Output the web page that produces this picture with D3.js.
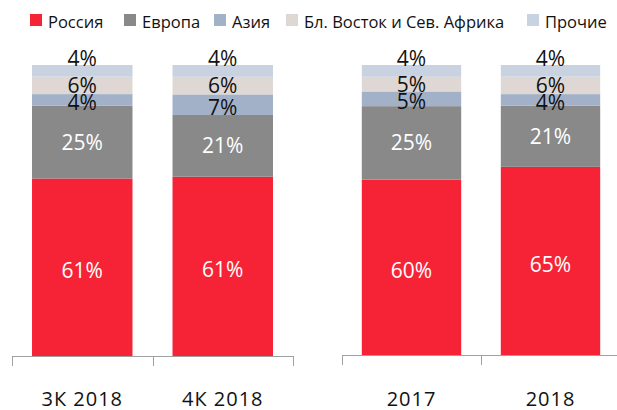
<!DOCTYPE html>
<html>
<head>
<meta charset="utf-8">
<script src="https://cdn.jsdelivr.net/npm/d3@7"></script>
<style>
  body { margin: 0; background: #fff; }
  svg { font-family: "Open Sans", sans-serif; }
</style>
</head>
<body>
<svg id="chart" width="617" height="410"></svg>
<script>
// series (bottom to top) and colours
const series = ["Россия", "Европа", "Азия", "Бл. Восток и Сев. Африка", "Прочие"];
const colors = ["#f62336", "#898989", "#a2b1c8", "#dfd7d4", "#c8d2e0"];

// left group: quarters, right group: years
const quarters = ["3К 2018", "4К 2018"];
const quarterValues = [
    [61, 25, 4, 6, 4],
    [61, 21, 7, 6, 4]
];
const years = ["2017", "2018"];
const yearValues = [
    [60, 25, 5, 5, 4],
    [65, 21, 4, 6, 4]
];

const svg = d3.select("#chart");

// shared vertical scale (share of 100%)
const y = d3.scaleLinear().domain([0, 1]).range([356, 65]);

// label nudges per series, to keep small segments apart
const labelShift = [3, 0, 3, 0, -12];

function drawGroup(cats, values, x0, x1, baseY) {
    const x = d3.scaleBand().domain(cats).range([x0, x1]).padding(0);
    const barW = x.bandwidth() * 0.715;

    const rows = cats.map((c, i) => {
        const r = { cat: c };
        series.forEach((s, j) => r[s] = values[i][j]);
        return r;
    });
    const stacked = d3.stack().keys(series).offset(d3.stackOffsetExpand)(rows);

    const g = svg.append("g");
    stacked.forEach((layer, j) => {
        g.selectAll(null)
            .data(layer)
            .enter()
            .append("rect")
            .attr("x", d => x(d.data.cat) + (x.bandwidth() - barW) / 2)
            .attr("y", d => y(d[1]))
            .attr("width", barW)
            .attr("height", d => y(d[0]) - y(d[1]))
            .attr("fill", colors[j]);
    });

    // value labels
    stacked.forEach((layer, j) => {
        g.selectAll(null)
            .data(layer)
            .enter()
            .append("text")
            .attr("x", d => x(d.data.cat) + x.bandwidth() / 2)
            .attr("y", d => (y(d[0]) + y(d[1])) / 2 + labelShift[j])
            .attr("dy", "0.36em")
            .attr("text-anchor", "middle")
            .style("font-size", "21px")
            .attr("fill", j < 2 ? "#fff" : "#111")
            .text(d => d.data[series[j]] + "%");
    });

    // axis: line with ticks at band edges
    const axis = g.append("g").attr("stroke", "#a0a0a0").attr("stroke-width", 1);
    axis.append("line")
        .attr("x1", x0).attr("x2", x1)
        .attr("y1", baseY + 0.5).attr("y2", baseY + 0.5);
    const edges = cats.map(c => x(c)).concat([x1]);
    axis.selectAll(null)
        .data(edges)
        .enter()
        .append("line")
        .attr("x1", d => Math.round(d) + 0.5).attr("x2", d => Math.round(d) + 0.5)
        .attr("y1", baseY).attr("y2", baseY + 10);

    g.selectAll(null)
        .data(cats)
        .enter()
        .append("text")
        .attr("x", d => x(d) + x.bandwidth() / 2)
        .attr("y", 406)
        .attr("text-anchor", "middle")
        .style("font-size", "20px")
        .style("letter-spacing", "1px")
        .attr("fill", "#111")
        .text(d => d);
}

drawGroup(quarters, quarterValues, 12, 293, 356);
drawGroup(years, yearValues, 342, 620, 355);

// legend
const legendX = [30, 124, 214, 286, 527];
const legend = svg.append("g");
series.forEach((s, i) => {
    legend.append("rect")
        .attr("x", legendX[i]).attr("y", 14)
        .attr("width", 12).attr("height", 12)
        .attr("fill", colors[i]);
    legend.append("text")
        .attr("x", legendX[i] + 18).attr("y", 28)
        .style("font-size", "16.5px")
        .attr("fill", "#111")
        .text(s);
});
</script>
</body>
</html>
